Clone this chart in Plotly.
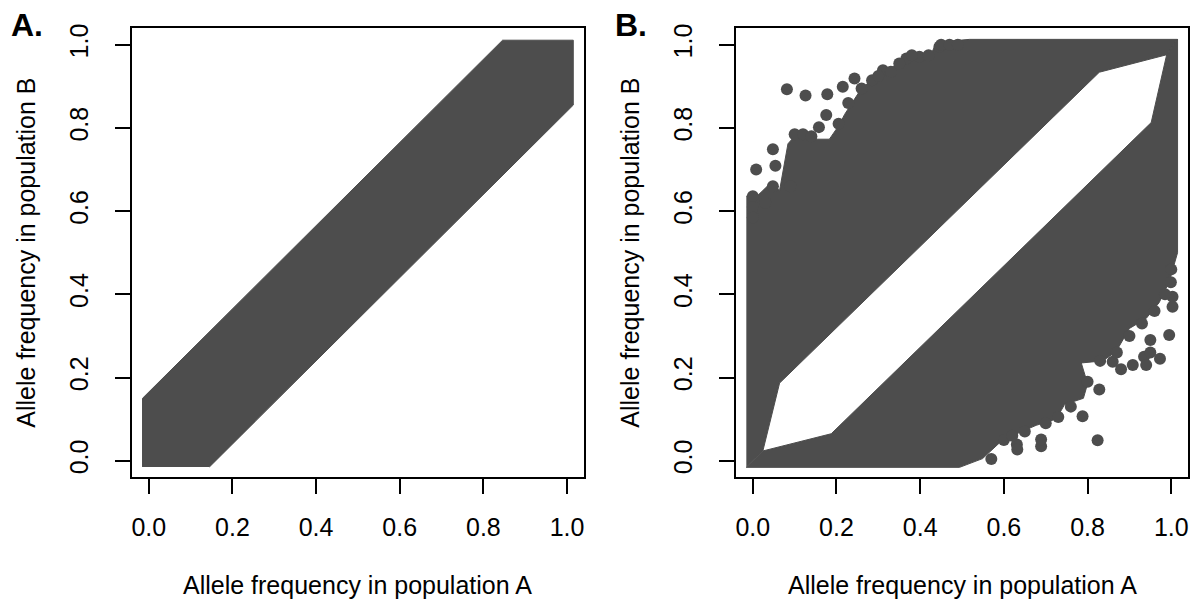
import plotly.graph_objects as go

GRAY = "#4D4D4D"
FONT = "Liberation Sans, Arial, sans-serif"

# ---------- data ----------
tick_vals = [0.0, 0.2, 0.4, 0.6, 0.8, 1.0]
tick_text = ["0.0", "0.2", "0.4", "0.6", "0.8", "1.0"]

# Panel A: envelope of the dense point cloud
a_env_x = [-0.015, -0.015, 0.846, 1.015, 1.015, 0.145]
a_env_y = [-0.015, 0.150, 1.011, 1.011, 0.855, -0.015]

# Panel B: envelope of the cloud above the empty diagonal band
b_up_x = [-0.0155, 0.024, 0.064, 0.828, 0.989, 1.015, 0.518, 0.462, 0.434, 0.422,
          0.374, 0.343, 0.279, 0.255, 0.219, 0.207, 0.183, 0.136, 0.104, 0.084,
          0.064, 0.040, 0.012, -0.0155]
b_up_y = [-0.016, 0.0234, 0.1866, 0.934, 0.976, 1.013, 1.013, 1.008, 0.995, 0.968,
          0.972, 0.952, 0.912, 0.888, 0.832, 0.808, 0.773, 0.773, 0.785, 0.762,
          0.650, 0.665, 0.638, 0.636]

# Panel B: envelope of the cloud below the empty diagonal band
b_low_x = [-0.0155, 0.494, 0.549, 0.597, 0.677, 0.725, 0.745, 0.790, 0.800, 0.785,
           0.836, 0.868, 0.900, 0.940, 0.971, 0.995, 1.015, 1.015, 0.989, 0.952,
           0.1874, 0.024]
b_low_y = [-0.016, -0.016, 0.005, 0.050, 0.085, 0.100, 0.135, 0.150, 0.185, 0.235,
           0.240, 0.262, 0.318, 0.342, 0.380, 0.430, 0.500, 1.013, 0.976, 0.813,
           0.0648, 0.0234]

# Panel B: isolated / edge points outside the envelopes
b_out_x = [0.0815, 0.126, 0.178, 0.1755, 0.158, 0.008, 0.054, 0.048, 0.048, 0.215,
           0.243, 0.311, 0.367, 0.398, 0.446, 0.000, 0.000, 0.000,
           0.100, 0.120, 0.140, 0.205, 0.228, 0.260, 0.285, 0.300, 0.330, 0.350,
           0.380, 0.420, 0.450, 0.470, 0.490, 0.090, 0.030,
           0.995, 0.973, 1.003, 1.003, 0.999, 0.824, 0.828, 0.689, 0.689, 0.631,
           0.632, 0.570, 0.908, 0.860, 0.788, 0.950, 0.935,
           0.600, 0.620, 0.650, 0.700, 0.730, 0.760, 0.800, 0.830, 0.870, 0.900,
           0.930, 0.960, 0.985, 0.950, 0.940, 0.880, 1.000]
b_out_y = [0.893, 0.878, 0.881, 0.831, 0.802, 0.700, 0.709, 0.749, 0.660, 0.899,
           0.919, 0.939, 0.967, 0.971, 0.995, 0.636, 0.610, 0.585,
           0.785, 0.785, 0.780, 0.810, 0.860, 0.895, 0.915, 0.925, 0.935, 0.955,
           0.975, 0.975, 1.000, 1.000, 1.000, 0.660, 0.620,
           0.302, 0.245, 0.394, 0.370, 0.429, 0.049, 0.171, 0.035, 0.051, 0.039,
           0.027, 0.004, 0.230, 0.238, 0.107, 0.290, 0.250,
           0.050, 0.060, 0.070, 0.090, 0.105, 0.130, 0.190, 0.240, 0.260, 0.300,
           0.330, 0.360, 0.400, 0.260, 0.230, 0.220, 0.460]

# ---------- figure ----------
fig = go.Figure()

def poly(xs, ys, xa, ya):
    fig.add_trace(go.Scatter(x=xs, y=ys, mode="lines", fill="toself",
                             fillcolor=GRAY, line=dict(color=GRAY, width=1),
                             xaxis=xa, yaxis=ya, hoverinfo="skip", showlegend=False))

poly(a_env_x, a_env_y, "x", "y")
poly(b_up_x, b_up_y, "x2", "y2")
poly(b_low_x, b_low_y, "x2", "y2")
fig.add_trace(go.Scatter(x=b_out_x, y=b_out_y, mode="markers",
                         marker=dict(color=GRAY, size=12, line=dict(width=0)),
                         xaxis="x2", yaxis="y2", showlegend=False))

W, H = 1197, 603
ydom = [1 - 476.5 / H, 1 - 24.3 / H]
xdomA = [131.3 / W, 583.7 / W]
xdomB = [736.3 / W, 1189.0 / W]

axis_common = dict(range=[-0.04, 1.04], showgrid=False, zeroline=False,
                   showline=True, mirror=True, linecolor="black", linewidth=1.5,
                   ticks="outside", ticklen=15, tickwidth=1.5, tickcolor="black",
                   tickvals=tick_vals, ticktext=tick_text,
                   tickfont=dict(family=FONT, size=25, color="black"))

fig.update_layout(
    width=W, height=H, margin=dict(l=0, r=0, t=0, b=0),
    paper_bgcolor="white", plot_bgcolor="white", showlegend=False,
    xaxis=dict(domain=xdomA, anchor="y", ticklabelstandoff=12, **axis_common),
    yaxis=dict(domain=ydom, anchor="x", tickangle=-90, ticklabelstandoff=17, **axis_common),
    xaxis2=dict(domain=xdomB, anchor="y2", ticklabelstandoff=12, **axis_common),
    yaxis2=dict(domain=ydom, anchor="x2", tickangle=-90, ticklabelstandoff=17, **axis_common),
)

title_font = dict(family=FONT, size=25, color="black")
ann = []
for cx, lab_x in [((131.3 + 583.7) / 2, 25), ((736.3 + 1189.0) / 2, 630)]:
    ann.append(dict(text="Allele frequency in population A", x=cx / W, y=1 - 585 / H,
                    xref="paper", yref="paper", xanchor="center", yanchor="middle",
                    showarrow=False, font=title_font))
    ann.append(dict(text="Allele frequency in population B", x=lab_x / W, y=1 - 250.4 / H,
                    xref="paper", yref="paper", xanchor="center", yanchor="middle",
                    textangle=-90, showarrow=False, font=title_font))
fig.update_layout(annotations=ann + [
    dict(text="<b>A.</b>", x=8 / W, y=1 - 21 / H, xref="paper", yref="paper",
         xanchor="left", yanchor="middle", showarrow=False,
         font=dict(family=FONT, size=32, color="black")),
    dict(text="<b>B.</b>", x=613 / W, y=1 - 21 / H, xref="paper", yref="paper",
         xanchor="left", yanchor="middle", showarrow=False,
         font=dict(family=FONT, size=32, color="black")),
])

fig.write_html("out.html")
